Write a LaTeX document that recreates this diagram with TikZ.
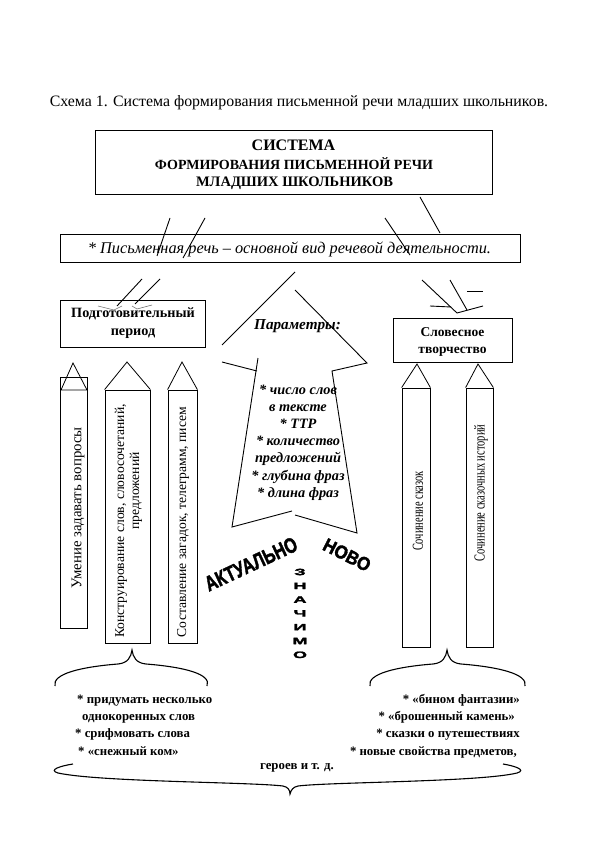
\documentclass[tikz,border=0pt]{standalone}
\usepackage{fontspec}
\usepackage{graphicx}
\setmainfont{Liberation Serif}
\newfontfamily\wordart[FakeBold=2]{Liberation Sans}
\newcommand\fz[2]{\fontsize{#1}{#2}\selectfont}
\begin{document}
\begin{tikzpicture}[x=1pt,y=-1pt,
  box/.style={draw, line width=0.8pt, inner sep=0pt},
  conn/.style={line width=0.9pt},
  greymark/.style={line width=0.6pt, black!55},
  body/.style={draw, line width=0.8pt, inner sep=0pt},
  tipline/.style={line width=0.8pt, line join=miter},
  plabel/.style={rotate=90, inner sep=0pt},
  txt/.style={inner sep=0pt, anchor=base},
  wa/.style={inner sep=0pt, font=\wordart\bfseries},
  brc/.style={line width=1.1pt}]
\useasboundingbox[fill=white] (0,0) rectangle (595,842);

% caption
\node[txt] (cap) at (299,107) {\fz{15.85}{19}Схема 1. Система формирования письменной речи младших школьников.};

% top box
\node[box, minimum width=397pt, minimum height=64pt] (sys) at (293.5,162) {};
\node[txt] (sys1) at (293.5,151) {\fz{16}{18}\bfseries СИСТЕМА};
\node[txt] (sys2) at (294,170) {\fz{14}{17}\bfseries ФОРМИРОВАНИЯ ПИСЬМЕННОЙ РЕЧИ};
\node[txt] (sys3) at (294.5,187) {\fz{14.5}{17}\bfseries МЛАДШИХ ШКОЛЬНИКОВ};

% italic box
\node[box, minimum width=460pt, minimum height=28pt] (ital) at (290,248) {};
\node[txt] (italt) at (289.5,253) {\fz{16.3}{18}\itshape * Письменная речь – основной вид речевой деятельности.};

% connectors top
\coordinate (a1) at (170,218); \coordinate (b1) at (157,256);
\coordinate (a2) at (205,218); \coordinate (b2) at (183,258);
\coordinate (a3) at (385,218); \coordinate (b3) at (410,255);
\coordinate (a4) at (420,197); \coordinate (b4) at (440,233);
\draw[conn] (a1) -- (b1);
\draw[conn] (a2) -- (b2);
\draw[conn] (a3) -- (b3);
\draw[conn] (a4) -- (b4);

% Подготовительный период
\node[box, minimum width=145pt, minimum height=47pt] (prep) at (132.5,323.5) {};
\node[txt] (prep1) at (133,317) {\fz{14.2}{16}\bfseries Подготовительный};
\node[txt] (prep2) at (133,335) {\fz{14.2}{16}\bfseries период};
\coordinate (a5) at (142,279); \coordinate (b5) at (117,306);
\coordinate (a6) at (160,279); \coordinate (b6) at (135,304);
\draw[conn] (a5) -- (b5);
\draw[conn] (a6) -- (b6);
\coordinate (m1) at (98,306); \coordinate (m2) at (114,310); \coordinate (m3) at (122,306);
\coordinate (m4) at (132,306); \coordinate (m5) at (137,309); \coordinate (m6) at (152,305);
\draw[greymark] (m1) -- (m2) -- (m3);
\draw[greymark] (m4) -- (m5) -- (m6);

% Словесное творчество
\node[box, minimum width=119pt, minimum height=44pt] (slov) at (452.5,340) {};
\node[txt] (slov1) at (452.5,336) {\fz{13.5}{16}\bfseries Словесное};
\node[txt] (slov2) at (452.5,353) {\fz{13.5}{16}\bfseries творчество};
\coordinate (a7) at (422,280); \coordinate (b7) at (457,313);
\coordinate (a8) at (450,280); \coordinate (b8) at (467,310);
\coordinate (h1) at (430,306); \coordinate (h2) at (451,307);
\coordinate (h3) at (483,306);
\coordinate (d1) at (467,291); \coordinate (d2) at (483,291);
\draw[conn] (a7) -- (b7);
\draw[conn] (a8) -- (b8);
\draw[conn] (h1) -- (h2);
\draw[conn] (b7) -- (h3);
\draw[conn] (d1) -- (d2);

% big arrow
\coordinate (ahl) at (222,345); \coordinate (aap) at (295,272);
\coordinate (aap2) at (295,290); \coordinate (ahr) at (367,363);
\coordinate (anr) at (332,371); \coordinate (abr) at (357,533);
\coordinate (abm2) at (295,515); \coordinate (abm) at (292,511);
\coordinate (abl) at (232,527); \coordinate (ast) at (258,358);
\coordinate (anl) at (222,362); \coordinate (anl2) at (257,371);
\draw[conn] (ahl) -- (aap);
\draw[conn] (aap2) -- (ahr) -- (anr) -- (abr) -- (abm2);
\draw[conn] (abm) -- (abl) -- (ast);
\draw[conn] (anl) -- (anl2);
\node[txt] (par) at (297.5,329) {\fz{15.2}{17}\bfseries\itshape Параметры:};
\foreach \t [count=\i] in {{* число слов},{в тексте},{* ТТР},{* количество},{предложений},{* глубина фраз},{* длина фраз}}
  \node[txt] (pl\i) at (298,{394+17.2*(\i-1)}) {\fz{14.3}{16}\bfseries\itshape \t};

% pencils left
\node[body, minimum width=27pt, minimum height=251pt] (p1) at (73.5,502.5) {};
\draw[tipline] (61,390) -- (73,363) -- (87,390) -- cycle;
\node[plabel] (t1) at (78,508) {\fz{14.8}{16}Умение задавать вопросы};

\node[body, minimum width=45pt, minimum height=253pt] (p2) at (127.5,516.5) {};
\draw[tipline] (p2.north west) -- (127,362) -- (p2.north east);
\node[plabel] (t2a) at (121,521) {\fz{13.6}{16}Конструирование слов, словосочетаний,};
\node[plabel] (t2b) at (136,491) {\fz{13.6}{16}предложений};

\node[body, minimum width=29pt, minimum height=253pt] (p3) at (182.5,516.5) {};
\draw[tipline] (p3.north west) -- (182,362) -- (p3.north east);
\node[plabel] (t3) at (183,522) {\fz{13.6}{16}Составление загадок, телеграмм, писем};

% pencils right
\node[body, minimum width=28pt, minimum height=259pt] (p4) at (416,517.5) {};
\draw[tipline] (p4.north west) -- (417,364) -- (p4.north east);
\node[plabel] (t4) at (418,511) {\scalebox{0.72}[1.05]{\fz{14.5}{16}Сочинение сказок}};

\node[body, minimum width=27pt, minimum height=259pt] (p5) at (479.5,517.5) {};
\draw[tipline] (p5.north west) -- (478,364) -- (p5.north east);
\node[plabel] (t5) at (481,493) {\scalebox{0.72}[1.05]{\fz{14.5}{16}Сочинение сказочных историй}};

% word art
\node[wa, rotate=25] (akt) at (251,564) {\scalebox{0.95}[1.25]{\fz{17}{19}АКТУАЛЬНО}};
\node[wa, rotate=-27] (novo) at (347,555) {\scalebox{1}[1.1]{\fz{17}{19}НОВО}};
\foreach \l [count=\i] in {З,Н,А,Ч,И,М,О}
  \node[wa] (zn\i) at (300,{572+13.8*(\i-1)}) {\scalebox{1.2}[0.62]{\fz{15}{15}\l}};

% braces
\draw[brc] (55,686) .. controls (52,674) and (80,667) .. (118,664) .. controls (128,663) and (131,657) .. (132,650) .. controls (133,657) and (136,663) .. (146,664) .. controls (184,667) and (212,674) .. (207,686);
\draw[brc] (370,686) .. controls (367,674) and (395,667) .. (433,664) .. controls (443,663) and (446,657) .. (447,650) .. controls (448,657) and (451,663) .. (461,664) .. controls (499,667) and (528,674) .. (525,686);
\draw[brc] (73,764) .. controls (60,766) and (48,770) .. (58,773) .. controls (100,782) and (250,782) .. (283,786) .. controls (288,787) and (290,790) .. (290,794) .. controls (291,790) and (293,787) .. (298,786) .. controls (330,782) and (480,782) .. (517,773) .. controls (527,770) and (515,766) .. (503,764);

% lists
\node[txt, anchor=base west] (l1) at (77,703) {\fz{12.8}{15}\bfseries * придумать несколько};
\node[txt, anchor=base west] (l2) at (82,720) {\fz{12.8}{15}\bfseries однокоренных слов};
\node[txt, anchor=base west] (l3) at (75,737.5) {\fz{12.8}{15}\bfseries * срифмовать слова};
\node[txt, anchor=base west] (l4) at (78,755) {\fz{12.8}{15}\bfseries * «снежный ком»};
\node[txt, anchor=base east] (r1) at (520,703) {\fz{12.8}{15}\bfseries * «бином фантазии»};
\node[txt, anchor=base east] (r2) at (515,720) {\fz{12.8}{15}\bfseries * «брошенный камень»};
\node[txt, anchor=base east] (r3) at (520,737.5) {\fz{12.8}{15}\bfseries * сказки о путешествиях};
\node[txt, anchor=base east] (r4) at (517,755) {\fz{12.8}{15}\bfseries * новые свойства предметов,};
\node[txt] (r5) at (297,769) {\fz{12.8}{15}\bfseries героев и т. д.};
\end{tikzpicture}
\end{document}
